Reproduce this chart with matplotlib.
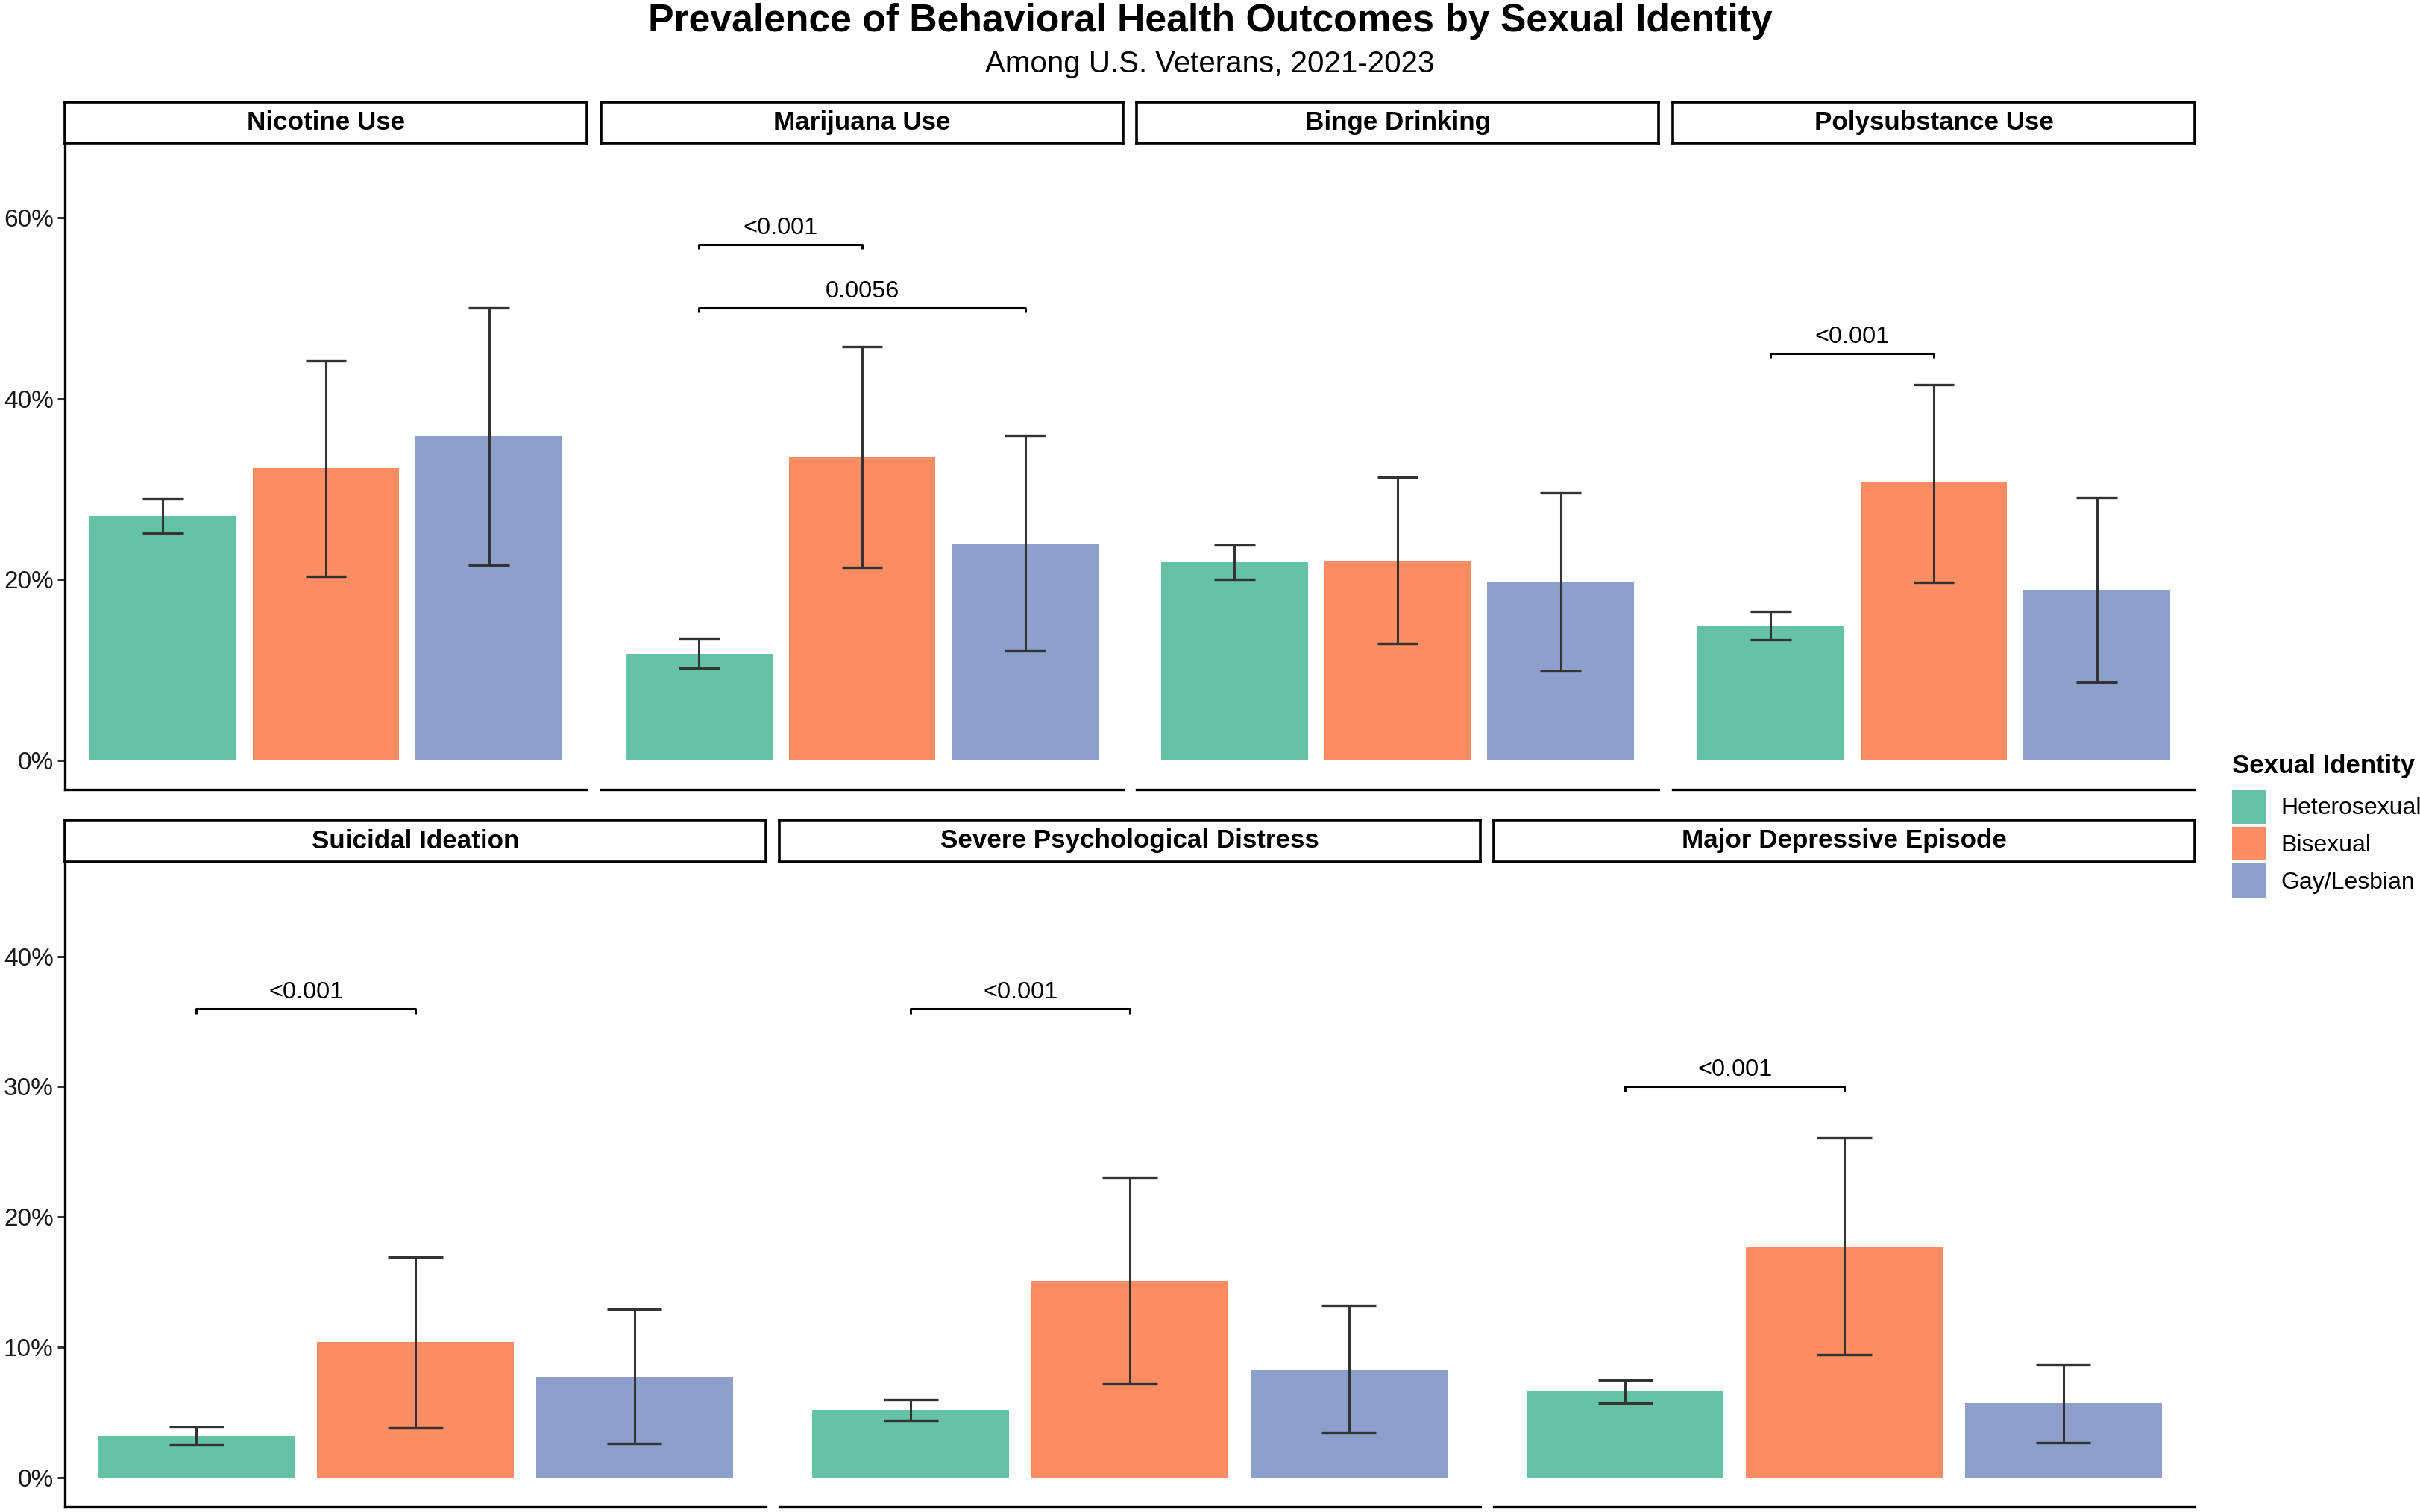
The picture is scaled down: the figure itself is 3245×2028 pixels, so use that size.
import matplotlib
matplotlib.use("Agg")
import matplotlib.pyplot as plt
from matplotlib.patches import Patch
from matplotlib.ticker import FuncFormatter

plt.rcParams['font.family'] = ['Liberation Sans', 'DejaVu Sans']

# data (percent)
groups = ["Heterosexual", "Bisexual", "Gay/Lesbian"]
colors = ["#66C2A5", "#FC8D62", "#8DA0CB"]

outcomes_top = ["Nicotine Use", "Marijuana Use", "Binge Drinking", "Polysubstance Use"]
prev_top = [[27.0, 32.3, 35.8], [11.8, 33.5, 24.0], [21.9, 22.1, 19.7], [14.9, 30.7, 18.8]]
lo_top = [[25.1, 20.3, 21.6], [10.2, 21.3, 12.1], [20.0, 12.9, 9.9], [13.3, 19.7, 8.6]]
hi_top = [[28.9, 44.2, 50.0], [13.4, 45.7, 35.9], [23.8, 31.3, 29.6], [16.5, 41.5, 29.1]]

outcomes_bot = ["Suicidal Ideation", "Severe Psychological Distress", "Major Depressive Episode"]
prev_bot = [[3.2, 10.4, 7.7], [5.2, 15.1, 8.3], [6.6, 17.7, 5.7]]
lo_bot = [[2.5, 3.8, 2.6], [4.4, 7.2, 3.4], [5.7, 9.4, 2.7]]
hi_bot = [[3.9, 16.9, 12.9], [6.0, 23.0, 13.2], [7.5, 26.1, 8.7]]

# significance brackets: (panel, group a, group b, height, label)
sig_top = [(1, 0, 1, 57, "<0.001"), (1, 0, 2, 50, "0.0056"), (3, 0, 1, 45, "<0.001")]
sig_bot = [(0, 0, 1, 36, "<0.001"), (1, 0, 1, 36, "<0.001"), (2, 0, 1, 30, "<0.001")]

W, H = 3245, 2028
DPI = 200
fig = plt.figure(figsize=(W / DPI, H / DPI), dpi=DPI)


def px_rect(x0, y0, x1, y1):
    return [x0 / W, 1 - y1 / H, (x1 - x0) / W, (y1 - y0) / H]


def draw_row(names, prev, lo, hi, sig, lefts, width, strip_top, strip_bot, panel_bot,
             ymax, ticks, tip):
    yr = ymax * 0.05
    for i, name in enumerate(names):
        x0 = lefts[i]
        x1 = x0 + width
        ax = fig.add_axes(px_rect(x0, strip_bot, x1, panel_bot))
        ax.patch.set_visible(False)
        # strip
        sax = fig.add_axes(px_rect(x0, strip_top, x1, strip_bot))
        sax.set_xticks([])
        sax.set_yticks([])
        for s in sax.spines.values():
            s.set_linewidth(1.3)
            s.set_color('black')
        sax.text(0.5, 0.5, name, ha='center', va='center', fontsize=12.6,
                 fontweight='bold', transform=sax.transAxes)
        xs = [1, 2, 3]
        ax.bar(xs, prev[i], width=0.9, color=colors, edgecolor='none')
        err_lo = [p - l for p, l in zip(prev[i], lo[i])]
        err_hi = [h - p for p, h in zip(prev[i], hi[i])]
        ax.errorbar(xs, prev[i], yerr=[err_lo, err_hi], fmt='none', ecolor='#333333',
                    elinewidth=1.1, capsize=0, zorder=3)
        for x, l, h in zip(xs, lo[i], hi[i]):
            ax.hlines([l, h], x - 0.125, x + 0.125, color='#333333', lw=1.2, zorder=3)
        for (p, a, b, yv, lab) in sig:
            if p != i:
                continue
            ax.plot([xs[a], xs[a], xs[b], xs[b]], [yv - tip, yv, yv, yv - tip],
                    color='black', lw=1.1, solid_capstyle='butt')
            ax.annotate(lab, xy=((xs[a] + xs[b]) / 2, yv), xytext=(0, 2.5),
                        textcoords='offset points', ha='center', va='bottom',
                        fontsize=11.7)
        ax.set_xlim(0.4, 3.6)
        ax.set_ylim(-yr, ymax + yr)
        ax.set_xticks([])
        ax.spines['top'].set_visible(False)
        ax.spines['right'].set_visible(False)
        ax.spines['bottom'].set_linewidth(1.2)
        ax.spines['bottom'].set_color('black')
        if i == 0:
            ax.spines['left'].set_linewidth(1.2)
            ax.spines['left'].set_color('black')
            ax.set_yticks(ticks)
            ax.yaxis.set_major_formatter(FuncFormatter(lambda v, _: f"{v:.0f}%"))
            ax.tick_params(axis='y', length=3.5, width=1.1, color='#333333',
                           labelsize=12, labelcolor='#1a1a1a', pad=2)
        else:
            ax.spines['left'].set_visible(False)
            ax.set_yticks([])


draw_row(outcomes_top, prev_top, lo_top, hi_top, sig_top,
         [87, 806, 1524, 2243], 700, 137, 192, 1059, 65, [0, 20, 40, 60], 0.5)
draw_row(outcomes_bot, prev_bot, lo_bot, hi_bot, sig_bot,
         [87, 1045, 2003], 940, 1100, 1156, 2021, 45, [0, 10, 20, 30, 40], 0.4)

fig.text(0.5, 1 - 42 / H, "Prevalence of Behavioral Health Outcomes by Sexual Identity",
         ha='center', va='baseline', fontsize=18.6, fontweight='bold')
fig.text(0.5, 1 - 97 / H, "Among U.S. Veterans, 2021-2023",
         ha='center', va='baseline', fontsize=14.5)

# legend: title as its own text, keys below it
fig.text(2993 / W, 1 - 1037 / H, "Sexual Identity", ha='left', va='baseline',
         fontsize=12.5, fontweight='bold')
handles = [Patch(facecolor=c, edgecolor='none') for c in colors]
fig.legend(handles, groups, loc='upper left',
           bbox_to_anchor=(2993 / W, 1 - 1059 / H), frameon=False,
           fontsize=11.5, handlelength=1.45, handleheight=1.83,
           labelspacing=0.12, handletextpad=0.6,
           borderpad=0, borderaxespad=0)

fig.savefig("out.png", dpi=DPI)
